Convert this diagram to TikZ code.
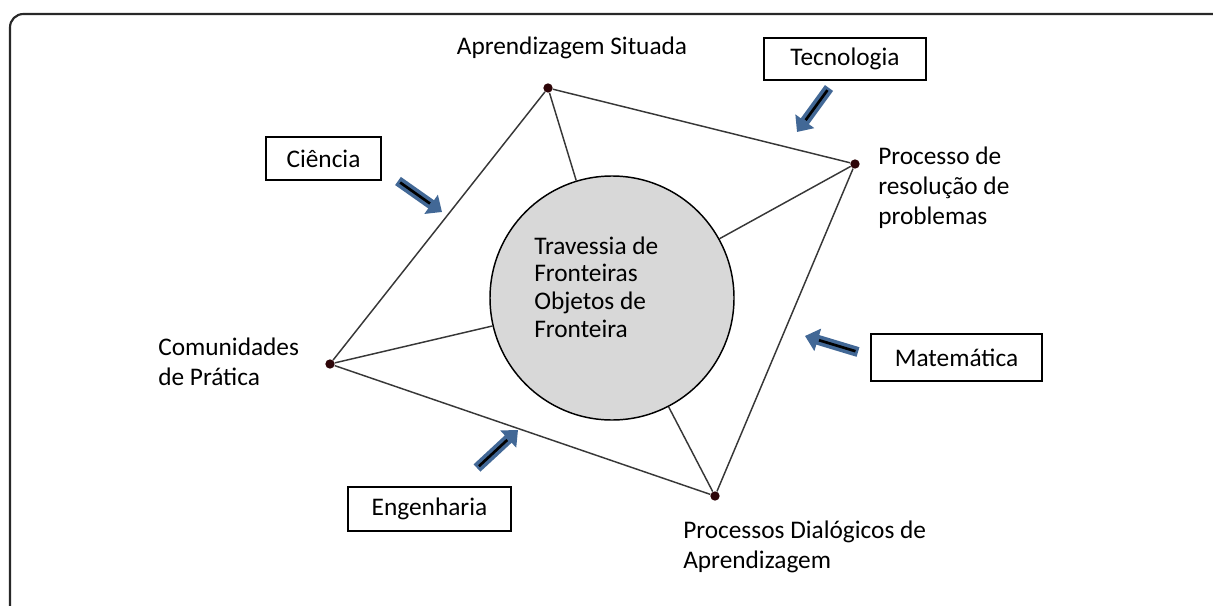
\documentclass[tikz,border=0pt]{standalone}
\usepackage{fontspec}
\setmainfont{Carlito}
\usetikzlibrary{arrows.meta}

\definecolor{arrowblue}{RGB}{66,104,150}
\definecolor{dotred}{RGB}{45,5,8}
\definecolor{hubgray}{RGB}{216,216,216}

\tikzset{
  vdot/.style={circle, fill=dotred, inner sep=0pt, minimum size=7pt},
  lbl/.style={inner sep=0pt, align=left, font=\fontsize{19}{22.5}\selectfont},
  tagbox/.style={draw, line width=1.1pt, inner sep=0pt, font=\fontsize{19}{22.5}\selectfont},
  edge/.style={line width=1.1pt, color={rgb,255:red,55;green,55;blue,55}},
  fatarrow/.style={arrowblue, line width=7.5pt, -{Triangle[length=10pt, width=17pt]}},
  arrowcore/.style={black, line width=2pt, shorten >=11pt, shorten <=2pt}
}

\begin{document}
\begin{tikzpicture}[x=0.75pt,y=0.75pt,yscale=-1,xscale=1]
\useasboundingbox (0,0) rectangle (1213,606);

%Frame
\draw [line width=1.6, color={rgb,255:red,40;green,40;blue,40}, rounded corners=10]
  (10,606) -- (10,14) -- (1213,14);

%Hub circle
\node [circle, draw, line width=1.1pt, fill=hubgray, minimum size=183pt, inner sep=0pt] (hub) at (612,298) {};

%Corner dots
\node [vdot] (sit) at (548,88) {};
\node [vdot] (res) at (855,164) {};
\node [vdot] (dia) at (715,496) {};
\node [vdot] (com) at (330,364) {};

%Straight Lines
\draw [edge] (sit) -- (res) -- (dia) -- (com) -- (sit);
\draw [edge] (sit) -- (hub);
\draw [edge] (res) -- (hub);
\draw [edge] (dia) -- (hub);
\draw [edge] (com) -- (hub);

% Text Node
\node [lbl, align=center] (sitlbl) at (572,48) {Aprendizagem Situada};
% Text Node
\node [lbl, anchor=west] (reslbl) at (878,188) {Processo de\\resolução de\\problemas};
% Text Node
\node [lbl, anchor=west] (comlbl) at (158,362) {Comunidades\\de Prática};
% Text Node
\node [lbl, anchor=west] (dialbl) at (683,547) {Processos Dialógicos de\\Aprendizagem};
% Text Node
\node [lbl, anchor=west, font=\fontsize{19}{20.8}\selectfont] (hublbl) at (534,287) {Travessia de\\Fronteiras\\Objetos de\\Fronteira};

%Boxes
\node [tagbox, minimum width=86.25pt, minimum height=32.25pt] (cie) at (323.5,158.5) {Ciência};
\node [tagbox, minimum width=121.5pt, minimum height=31.5pt] (tec) at (845,59) {Tecnologia};
\node [tagbox, minimum width=128.25pt, minimum height=35.25pt] (mat) at (956.5,357.5) {Matemática};
\node [tagbox, minimum width=122.25pt, minimum height=33pt] (eng) at (429.5,509) {Engenharia};

%Arrows
\coordinate (cieA) at (398,181);  \coordinate (cieB) at (442,212);
\coordinate (tecA) at (829,88);   \coordinate (tecB) at (797,132);
\coordinate (matA) at (858,352);  \coordinate (matB) at (805,336);
\coordinate (engA) at (477,468);  \coordinate (engB) at (518,430);
\draw [fatarrow] (cieA) -- (cieB);
\draw [arrowcore] (cieA) -- (cieB);
\draw [fatarrow] (tecA) -- (tecB);
\draw [arrowcore] (tecA) -- (tecB);
\draw [fatarrow] (matA) -- (matB);
\draw [arrowcore] (matA) -- (matB);
\draw [fatarrow] (engA) -- (engB);
\draw [arrowcore] (engA) -- (engB);

\end{tikzpicture}
\end{document}
